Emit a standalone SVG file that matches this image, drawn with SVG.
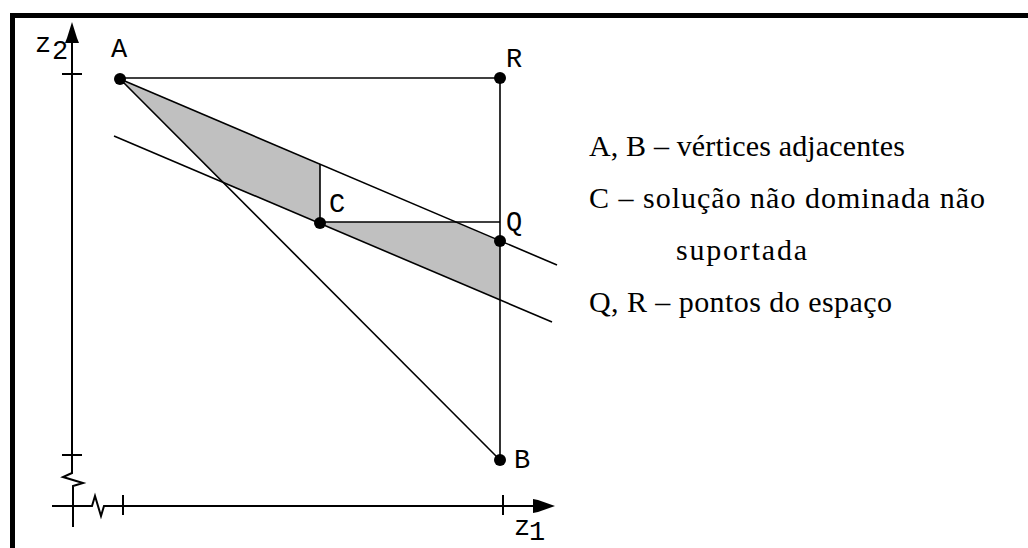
<svg xmlns="http://www.w3.org/2000/svg" width="1028" height="548" viewBox="0 0 1028 548">
<style>
.ln{stroke:#000;stroke-width:1.6;fill:none}
.ax{stroke:#000;stroke-width:2;fill:none}
.dot{fill:#000}
.lbl{font-family:"Liberation Mono",monospace;font-size:27px;fill:#000}
.leg{font-family:"Liberation Serif","Times New Roman",serif;font-size:30px;fill:#000}
.shade{fill:#c0c0c0;stroke:none}
</style>
<rect width="1028" height="548" fill="#fff"/>
<rect x="12.5" y="15.5" width="1100" height="600" fill="none" stroke="#000" stroke-width="5"/>
<g id="shading">
<polygon class="shade" points="120,79 320,164 320,223 223,183"/>
<polygon class="shade" points="320,222 456,222 500,241 500,300 320,223"/>
</g>
<g id="axes">
<path class="ax" d="M72,40 L72,473 L63,477 L83,483 L73,486 L73,527"/>
<path class="ax" d="M62,74 H82 M62,455 H82"/>
<polygon points="72,22 67,38 65,43 79,43 77,38" fill="#000"/>
<path class="ax" d="M52,506 L92,506 L95,496 L101,516 L104,506 L540,506"/>
<path class="ax" d="M123,495 V515 M503,495 V515"/>
<polygon points="555,506 538,500 533,499 533,513 538,512" fill="#000"/>
<text class="lbl" x="35" y="52" font-size="21">z</text>
<text class="lbl" x="52" y="59" font-size="16">2</text>
<text class="lbl" x="514" y="535" font-size="21">z</text>
<text class="lbl" x="529" y="540" font-size="16">1</text>
</g>
<g id="connectors">
<line class="ln" x1="120" y1="78" x2="500" y2="78"/>
<line class="ln" x1="500" y1="78" x2="500" y2="460"/>
<line class="ln" x1="120" y1="79" x2="500" y2="460"/>
<line class="ln" x1="120" y1="79" x2="557" y2="265"/>
<line class="ln" x1="114" y1="136" x2="552" y2="322"/>
<line class="ln" x1="320" y1="164" x2="320" y2="223"/>
<line class="ln" x1="320" y1="222" x2="500" y2="222"/>
</g>
<g id="node-A"><circle class="dot" cx="120" cy="79" r="6"/><text class="lbl" x="111" y="57">A</text></g>
<g id="node-R"><circle class="dot" cx="500" cy="78" r="6"/><text class="lbl" x="506" y="67">R</text></g>
<g id="node-Q"><circle class="dot" cx="500" cy="241" r="6"/><text class="lbl" x="506" y="230">Q</text></g>
<g id="node-C"><circle class="dot" cx="320" cy="223" r="6"/><text class="lbl" x="329" y="212">C</text></g>
<g id="node-B"><circle class="dot" cx="500" cy="460" r="6"/><text class="lbl" x="514" y="468">B</text></g>
<g id="legend">
<text class="leg" x="589" y="156" textLength="316" lengthAdjust="spacing">A, B – vértices adjacentes</text>
<text class="leg" x="589" y="208" textLength="396" lengthAdjust="spacing">C – solução não dominada não</text>
<text class="leg" x="676" y="260" textLength="131" lengthAdjust="spacing">suportada</text>
<text class="leg" x="589" y="312" textLength="303" lengthAdjust="spacing">Q, R – pontos do espaço</text>
</g>
</svg>
